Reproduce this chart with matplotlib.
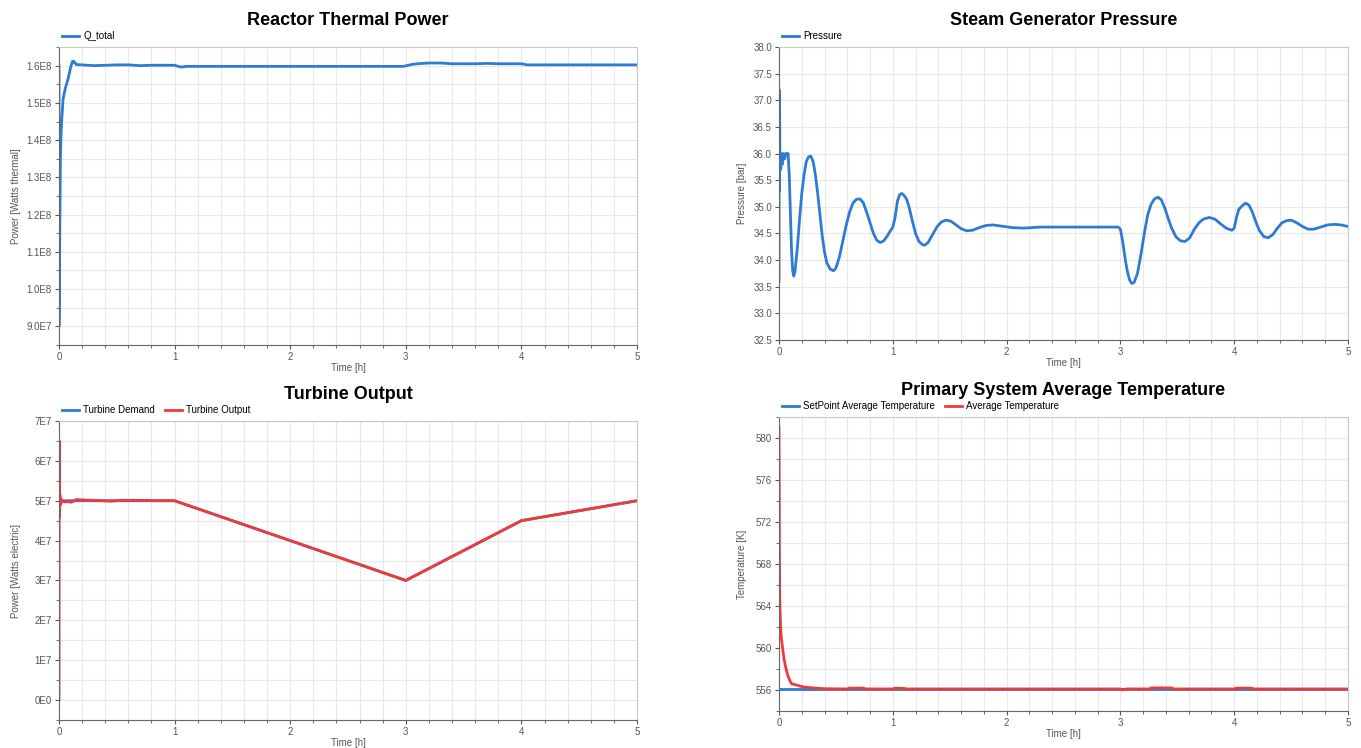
import matplotlib.pyplot as plt
from matplotlib.ticker import MultipleLocator

plt.rcParams['font.family'] = ['Liberation Sans', 'DejaVu Sans']

BLUE = '#2e7bd4'
RED = '#f03a3a'

# Reactor thermal power (Q_total), time in hours
q_time = [0.0, 0.0, 0.004, 0.008, 0.012, 0.018, 0.023, 0.035, 0.055, 0.07, 0.085,
          0.1, 0.116, 0.125, 0.15, 0.2, 0.3, 0.4, 0.5, 0.6, 0.7, 0.8, 0.9, 1.0,
          1.03, 1.06, 1.1, 1.5, 2.0, 2.5, 2.98, 3.05, 3.1, 3.2, 3.3, 3.4, 3.6,
          3.7, 3.8, 4.0, 4.05, 4.5, 5.0]
q_total = [1.6e8, 9.0e7, 1.05e8, 1.2e8, 1.35e8, 1.42e8, 1.45e8, 1.51e8, 1.54e8,
           1.555e8, 1.573e8, 1.595e8, 1.611e8, 1.612e8, 1.603e8, 1.602e8,
           1.600e8, 1.601e8, 1.602e8, 1.602e8, 1.600e8, 1.601e8, 1.601e8,
           1.601e8, 1.598e8, 1.596e8, 1.598e8, 1.598e8, 1.598e8, 1.598e8,
           1.598e8, 1.603e8, 1.605e8, 1.607e8, 1.607e8, 1.605e8, 1.605e8,
           1.606e8, 1.605e8, 1.605e8, 1.602e8, 1.602e8, 1.602e8]

# Steam generator pressure [bar]
p_time = [0.0, 0.002, 0.004, 0.006, 0.008, 0.01, 0.015, 0.02, 0.03, 0.04, 0.05,
          0.06, 0.07, 0.08, 0.09, 0.1, 0.11, 0.12, 0.13, 0.14, 0.16, 0.18, 0.2,
          0.22, 0.24, 0.26, 0.28, 0.3, 0.32, 0.34, 0.36, 0.38, 0.4, 0.42, 0.45,
          0.48, 0.5, 0.53, 0.56, 0.59, 0.62, 0.65, 0.68, 0.71, 0.74, 0.77, 0.8,
          0.83, 0.86, 0.89, 0.92, 0.95, 0.98, 1.0, 1.02, 1.04, 1.06, 1.08, 1.1,
          1.12, 1.14, 1.17, 1.2, 1.23, 1.26, 1.28, 1.31, 1.35, 1.39, 1.43, 1.47,
          1.51, 1.55, 1.6, 1.65, 1.7, 1.76, 1.82, 1.88, 1.95, 2.05, 2.15, 2.3,
          2.6, 2.98, 3.0, 3.02, 3.04, 3.06, 3.08, 3.1, 3.12, 3.15, 3.18, 3.21,
          3.24, 3.27, 3.3, 3.33, 3.36, 3.39, 3.42, 3.45, 3.49, 3.53, 3.57, 3.61,
          3.65, 3.69, 3.73, 3.78, 3.83, 3.88, 3.93, 3.98, 4.0, 4.02, 4.04, 4.07,
          4.1, 4.13, 4.16, 4.19, 4.22, 4.26, 4.3, 4.34, 4.38, 4.42, 4.46, 4.5,
          4.55, 4.6, 4.65, 4.7, 4.76, 4.82, 4.88, 4.94, 5.0]
pressure = [33.6, 37.2, 35.3, 36.6, 35.8, 35.9, 35.7, 36.0, 35.8, 36.0, 35.9,
            36.0, 36.0, 36.0, 35.6, 34.9, 34.2, 33.8, 33.7, 33.78, 34.2, 34.75,
            35.25, 35.6, 35.85, 35.94, 35.95, 35.85, 35.6, 35.25, 34.85, 34.45,
            34.15, 33.95, 33.83, 33.8, 33.85, 34.05, 34.35, 34.65, 34.9, 35.07,
            35.14, 35.15, 35.08, 34.9, 34.7, 34.5, 34.37, 34.33, 34.36, 34.45,
            34.55, 34.62, 34.8, 35.1, 35.23, 35.25, 35.21, 35.15, 35.02, 34.75,
            34.5, 34.35, 34.29, 34.28, 34.33, 34.48, 34.63, 34.72, 34.75, 34.73,
            34.67, 34.59, 34.55, 34.56, 34.61, 34.65, 34.66, 34.64, 34.61, 34.6,
            34.62, 34.62, 34.62, 34.58, 34.35, 34.05, 33.8, 33.63, 33.56, 33.58,
            33.75, 34.1, 34.5, 34.85, 35.05, 35.15, 35.18, 35.13, 34.98, 34.78,
            34.6, 34.43, 34.36, 34.35, 34.42, 34.58, 34.7, 34.77, 34.8, 34.77,
            34.68, 34.6, 34.56, 34.6, 34.8, 34.95, 35.02, 35.07, 35.03, 34.9,
            34.72, 34.56, 34.44, 34.42, 34.48, 34.6, 34.7, 34.74, 34.75, 34.7,
            34.63, 34.58, 34.58, 34.62, 34.66, 34.67, 34.66, 34.63]

# Turbine output [W electric]
t_time = [0.0, 1.0, 3.0, 4.0, 5.0]
t_demand = [5.0e7, 5.0e7, 3.0e7, 4.5e7, 5.0e7]
to_time = [0.0, 0.002, 0.005, 0.008, 0.012, 0.016, 0.02, 0.03, 0.05, 0.08, 0.1,
           0.12, 0.15, 0.2, 0.3, 0.45, 0.55, 0.7, 0.85, 1.0, 3.0, 4.0, 5.0]
t_output = [0.0, 6.5e7, 4.6e7, 5.15e7, 4.9e7, 5.05e7, 4.95e7, 5.0e7, 4.97e7,
            4.98e7, 4.96e7, 4.98e7, 5.03e7, 5.02e7, 5.01e7, 4.99e7, 5.01e7,
            5.01e7, 5.0e7, 5.0e7, 3.0e7, 4.5e7, 5.0e7]

# Primary system average temperature [K]
sp_time = [0.0, 5.0]
sp_temp = [556.1, 556.1]
avg_time = [0.0, 0.002, 0.004, 0.006, 0.008, 0.012, 0.016, 0.02, 0.035, 0.045,
            0.06, 0.08, 0.1, 0.11, 0.16, 0.21, 0.25, 0.3, 0.4, 0.6, 0.62, 0.74,
            0.76, 1.0, 1.02, 1.1, 1.12, 1.5, 3.0, 3.02, 3.05, 3.25, 3.27, 3.45,
            3.47, 4.0, 4.02, 4.15, 4.17, 5.0]
avg_temp = [581.0, 575.3, 569.0, 565.2, 563.8, 562.6, 561.6, 561.0, 559.7,
            558.9, 558.1, 557.3, 556.8, 556.6, 556.45, 556.3, 556.25, 556.2,
            556.12, 556.1, 556.18, 556.18, 556.1, 556.1, 556.18, 556.15, 556.1,
            556.1, 556.1, 556.0, 556.1, 556.1, 556.2, 556.2, 556.1, 556.1,
            556.18, 556.18, 556.1, 556.1]

q_ticks = [9.0e7, 1.0e8, 1.1e8, 1.2e8, 1.3e8, 1.4e8, 1.5e8, 1.6e8]
q_labels = ['9.0E7', '1.0E8', '1.1E8', '1.2E8', '1.3E8', '1.4E8', '1.5E8', '1.6E8']
p_ticks = [32.5, 33.0, 33.5, 34.0, 34.5, 35.0, 35.5, 36.0, 36.5, 37.0, 37.5, 38.0]
t_ticks = [0, 1e7, 2e7, 3e7, 4e7, 5e7, 6e7, 7e7]
t_labels = ['0E0', '1E7', '2E7', '3E7', '4E7', '5E7', '6E7', '7E7']
temp_ticks = [556, 560, 564, 568, 572, 576, 580]

fig = plt.figure(figsize=(13.61, 7.48), dpi=100)
W, H = 1361, 748


def make_axes(x0, x1, y0, y1):
    return fig.add_axes([x0 / W, (H - y1) / H, (x1 - x0) / W, (y1 - y0) / H])


ax1 = make_axes(59, 637, 47, 345)
ax2 = make_axes(779, 1348, 47, 340)
ax3 = make_axes(59, 637, 421, 720)
ax4 = make_axes(779, 1348, 417, 711)


def style(ax, title, ylabel, ygrid):
    ax.set_xlim(0, 5)
    ax.xaxis.set_major_locator(MultipleLocator(1))
    ax.xaxis.set_minor_locator(MultipleLocator(0.2))
    ax.yaxis.set_minor_locator(MultipleLocator(ygrid))
    ax.grid(True, which='both', color='#e8e8e8', linewidth=0.8)
    ax.set_axisbelow(True)
    for side in ['top', 'right']:
        ax.spines[side].set_color('#c8c8c8')
    for side in ['left', 'bottom']:
        ax.spines[side].set_color('#666666')
    ax.tick_params(which='both', labelsize=7, colors='#555555', length=3, pad=2)
    ax.tick_params(which='minor', length=2)
    ax.set_title(title, fontsize=13, fontweight='bold', pad=16)
    ax.set_xlabel('Time [h]', fontsize=7, color='#555555', labelpad=1)
    ax.set_ylabel(ylabel, fontsize=7, color='#555555')
    ax.legend(loc='lower left', bbox_to_anchor=(-0.005, 1.0), frameon=False,
              ncol=2, fontsize=7, handlelength=1.8, borderaxespad=0.2,
              columnspacing=1.0, handletextpad=0.4)


lw = dict(linewidth=2, solid_joinstyle='round')

ax1.plot(q_time, q_total, color=BLUE, label='Q_total', **lw)
ax1.set_ylim(8.5e7, 1.65e8)
ax1.set_yticks(q_ticks)
ax1.set_yticklabels(q_labels)
style(ax1, 'Reactor Thermal Power', 'Power [Watts thermal]', 0.5e7)
ax1.yaxis.set_label_coords(-0.066, 0.5)

ax2.plot(p_time, pressure, color=BLUE, label='Pressure', **lw)
ax2.set_ylim(32.5, 38.0)
ax2.set_yticks(p_ticks)
ax2.set_yticklabels([f'{v:.1f}' for v in p_ticks])
style(ax2, 'Steam Generator Pressure', 'Pressure [bar]', 0.5)
ax2.yaxis.set_label_coords(-0.056, 0.5)

ax3.plot(t_time, t_demand, color=BLUE, label='Turbine Demand', **lw)
ax3.plot(to_time, t_output, color=RED, label='Turbine Output', **lw)
ax3.set_ylim(-0.5e7, 7e7)
ax3.set_yticks(t_ticks)
ax3.set_yticklabels(t_labels)
style(ax3, 'Turbine Output', 'Power [Watts electric]', 0.5e7)
ax3.yaxis.set_label_coords(-0.066, 0.5)

ax4.plot(sp_time, sp_temp, color=BLUE, label='SetPoint Average Temperature', **lw)
ax4.plot(avg_time, avg_temp, color=RED, label='Average Temperature', **lw)
ax4.set_ylim(554, 582)
ax4.set_yticks(temp_ticks)
style(ax4, 'Primary System Average Temperature', 'Temperature [K]', 2)
ax4.yaxis.set_label_coords(-0.056, 0.5)

fig.savefig('out.png', dpi=100)
